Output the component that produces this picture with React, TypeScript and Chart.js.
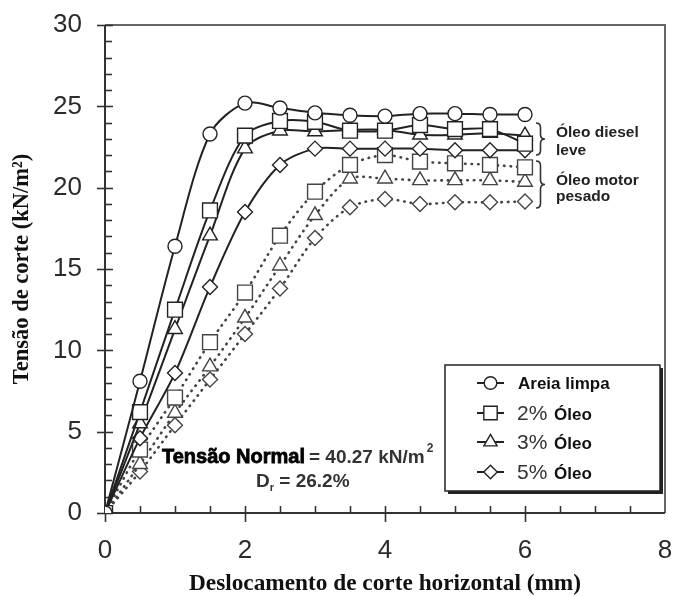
import React, { useEffect, useRef } from 'react';
import { Chart, registerables } from 'chart.js';

Chart.register(...registerables);

// ---- data ----
const xValues = [0, 0.5, 1, 1.5, 2, 2.5, 3, 3.5, 4, 4.5, 5, 5.5, 6];
const areiaLimpa = [0, 8.1, 16.4, 23.3, 25.2, 24.9, 24.6, 24.45, 24.4, 24.55, 24.55, 24.5, 24.5];
const diesel2 = [0, 6.2, 12.5, 18.6, 23.2, 24.1, 24.05, 23.5, 23.5, 23.85, 23.6, 23.6, 22.7];
const diesel3 = [0, 5.5, 11.3, 17.05, 22.4, 23.5, 23.45, 23.55, 23.55, 23.25, 23.25, 23.35, 23.2];
const diesel5 = [0, 4.6, 8.6, 13.9, 18.5, 21.4, 22.4, 22.4, 22.4, 22.4, 22.3, 22.3, 22.3];
const motor2 = [0, 3.9, 7.1, 10.5, 13.55, 17.05, 19.75, 21.4, 22.0, 21.6, 21.5, 21.4, 21.25];
const motor3 = [0, 3.0, 6.15, 9.0, 12.0, 15.2, 18.3, 20.55, 20.55, 20.45, 20.45, 20.45, 20.35];
const motor5 = [0, 2.55, 5.4, 8.2, 11.0, 13.8, 16.9, 18.8, 19.3, 19.0, 19.1, 19.1, 19.15];

const xTickValues = [0, 2, 4, 6, 8];
const yTickValues = [0, 5, 10, 15, 20, 25, 30];
const legendNames = ['Areia limpa', '2%', '3%', '5%'];
const legendSuffix = ['', ' Óleo', ' Óleo', ' Óleo'];
const legendStyles = ['circle', 'rect', 'triangle', 'rectRot'];
const groupLabels = [['Óleo diesel', 'leve'], ['Óleo motor', 'pesado']];
const normalLabel = 'Tensão Normal';
const normalValue = '= 40.27 kN/m';
const drLabel = ' = 26.2%';

const SANS = '"Liberation Sans", Arial, sans-serif';
const SERIF = '"Liberation Serif", "Times New Roman", serif';

const radiusFor: Record<string, number> = { circle: 7, rect: 10.5, triangle: 8.5, rectRot: 7.5 };

function toPoints(ys: number[]) {
  return xValues.map((x, i) => ({ x, y: ys[i] }));
}

function drawMarker(ctx: CanvasRenderingContext2D, style: string, x: number, y: number, r: number) {
  ctx.beginPath();
  if (style === 'circle') {
    ctx.arc(x, y, r, 0, Math.PI * 2);
  } else if (style === 'rect') {
    const s = r * Math.SQRT1_2;
    ctx.rect(x - s, y - s, 2 * s, 2 * s);
  } else if (style === 'triangle') {
    for (let k = 0; k < 3; k++) {
      const a = (k * 2 * Math.PI) / 3;
      const px = x + Math.sin(a) * r;
      const py = y - Math.cos(a) * r;
      if (k === 0) ctx.moveTo(px, py);
      else ctx.lineTo(px, py);
    }
    ctx.closePath();
  } else {
    ctx.moveTo(x, y - r);
    ctx.lineTo(x + r, y);
    ctx.lineTo(x, y + r);
    ctx.lineTo(x - r, y);
    ctx.closePath();
  }
  ctx.fillStyle = '#fff';
  ctx.fill();
  ctx.stroke();
}

function drawBrace(ctx: CanvasRenderingContext2D, x: number, y1: number, y2: number, w: number) {
  const ym = (y1 + y2) / 2;
  const h = w / 2;
  ctx.beginPath();
  ctx.moveTo(x, y1);
  ctx.quadraticCurveTo(x + h, y1, x + h, y1 + h);
  ctx.lineTo(x + h, ym - h);
  ctx.quadraticCurveTo(x + h, ym, x + w, ym);
  ctx.quadraticCurveTo(x + h, ym, x + h, ym + h);
  ctx.lineTo(x + h, y2 - h);
  ctx.quadraticCurveTo(x + h, y2, x, y2);
  ctx.stroke();
}

const framePlugin = {
  id: 'framePlugin',
  beforeDatasetsDraw(chart: any) {
    const { ctx, chartArea, scales } = chart;
    const xs = scales.x;
    const ys = scales.y;
    const { left, right, top, bottom } = chartArea;
    ctx.save();
    ctx.strokeStyle = '#666';
    ctx.lineWidth = 2;
    ctx.beginPath();
    ctx.moveTo(left, top);
    ctx.lineTo(right, top);
    ctx.lineTo(right, bottom);
    ctx.stroke();
    ctx.strokeStyle = '#333';
    ctx.lineWidth = 2;
    ctx.beginPath();
    ctx.moveTo(left, top);
    ctx.lineTo(left, bottom);
    ctx.lineTo(right, bottom);
    ctx.stroke();
    ctx.lineWidth = 1.6;
    for (let v = 0; v <= 30; v += 1) {
      const py = Math.round(ys.getPixelForValue(v)) + 0.5;
      ctx.beginPath();
      if (v % 5 === 0) {
        ctx.moveTo(left - 8, py);
        ctx.lineTo(left + 8, py);
      } else {
        ctx.moveTo(left, py);
        ctx.lineTo(left + 7, py);
      }
      ctx.stroke();
    }
    for (let v = 0; v < 8; v += 0.5) {
      const px = Math.round(xs.getPixelForValue(v)) + 0.5;
      ctx.beginPath();
      if (v % 2 === 0) {
        ctx.moveTo(px, bottom - 7);
        ctx.lineTo(px, bottom + 9);
      } else {
        ctx.moveTo(px, bottom - 7);
        ctx.lineTo(px, bottom);
      }
      ctx.stroke();
    }
    ctx.restore();
  },
  afterDraw(chart: any) {
    const { ctx } = chart;
    ctx.save();
    const bx = 445, by = 365, bw = 215, bh = 126;
    ctx.fillStyle = '#222';
    ctx.fillRect(bx + 3, by + 3, bw, bh);
    ctx.fillStyle = '#fff';
    ctx.fillRect(bx, by, bw, bh);
    ctx.strokeStyle = '#222';
    ctx.lineWidth = 1.5;
    ctx.strokeRect(bx, by, bw, bh);
    const rowsY = [383, 413, 442, 472];
    legendNames.forEach((name, i) => {
      const y = rowsY[i];
      ctx.strokeStyle = '#222';
      ctx.lineWidth = 2;
      ctx.beginPath();
      ctx.moveTo(477, y);
      ctx.lineTo(504, y);
      ctx.stroke();
      ctx.lineWidth = 1.4;
      drawMarker(ctx, legendStyles[i], 490.5, y, radiusFor[legendStyles[i]] * 0.9);
      ctx.textBaseline = 'alphabetic';
      ctx.textAlign = 'left';
      if (i === 0) {
        ctx.font = 'bold 17px ' + SANS;
        ctx.fillStyle = '#111';
        ctx.fillText(name, 518, y + 6);
      } else {
        ctx.font = '21px ' + SANS;
        ctx.fillStyle = '#333';
        ctx.fillText(name, 517, y + 7);
        const w = ctx.measureText(name).width;
        ctx.font = 'bold 17px ' + SANS;
        ctx.fillStyle = '#111';
        ctx.fillText(legendSuffix[i], 519 + w, y + 7);
      }
    });

    ctx.font = 'bold 20px ' + SANS;
    ctx.fillStyle = '#000';
    ctx.strokeStyle = '#000';
    ctx.lineWidth = 0.8;
    ctx.fillText(normalLabel, 162, 463);
    ctx.strokeText(normalLabel, 162, 463);
    const nlw = ctx.measureText(normalLabel).width;
    ctx.font = 'bold 19px ' + SANS;
    ctx.fillStyle = '#333';
    const vx = 162 + nlw + 4;
    ctx.fillText(normalValue, vx, 463);
    const nvw = ctx.measureText(normalValue).width;
    ctx.font = 'bold 12px ' + SANS;
    ctx.fillText('2', vx + nvw + 2, 452);
    ctx.font = 'bold 19px ' + SANS;
    ctx.fillText('D', 256, 487);
    const dw = ctx.measureText('D').width;
    ctx.font = 'bold 11px ' + SANS;
    ctx.fillText('r', 256 + dw, 491);
    const rw = ctx.measureText('r').width;
    ctx.font = 'bold 19px ' + SANS;
    ctx.fillText(drLabel, 256 + dw + rw, 487);

    ctx.strokeStyle = '#333';
    ctx.lineWidth = 1.6;
    drawBrace(ctx, 536, 123, 155, 9);
    drawBrace(ctx, 536, 161, 208, 9);
    ctx.font = 'bold 15.5px ' + SANS;
    ctx.fillStyle = '#222';
    ctx.fillText(groupLabels[0][0], 556, 137);
    ctx.fillText(groupLabels[0][1], 556, 155);
    ctx.fillText(groupLabels[1][0], 556, 185);
    ctx.fillText(groupLabels[1][1], 556, 201);
    ctx.restore();
  },
};

function solid(label: string, ys: number[], style: string) {
  return {
    label,
    data: toPoints(ys),
    borderColor: '#222',
    borderWidth: 2,
    tension: 0.3,
    pointStyle: style,
    pointRadius: radiusFor[style],
    pointBackgroundColor: '#fff',
    pointBorderColor: '#222',
    pointBorderWidth: 1.4,
    fill: false,
  };
}

function dotted(label: string, ys: number[], style: string) {
  return {
    label,
    data: toPoints(ys),
    borderColor: '#444',
    borderWidth: 2.6,
    borderDash: [0.5, 6],
    borderCapStyle: 'round',
    tension: 0.3,
    pointStyle: style,
    pointRadius: radiusFor[style],
    pointBackgroundColor: '#fff',
    pointBorderColor: '#444',
    pointBorderWidth: 1.4,
    fill: false,
  };
}

function zeroPad(s: any) {
  s.paddingLeft = 0;
  s.paddingRight = 0;
  s.paddingTop = 0;
  s.paddingBottom = 0;
}

export default function App() {
  const ref = useRef<HTMLCanvasElement | null>(null);
  useEffect(() => {
    if (!ref.current) return;
    const chart = new Chart(ref.current, {
      type: 'line',
      data: {
        datasets: [
          solid('Areia limpa', areiaLimpa, 'circle'),
          solid('2% Óleo', diesel2, 'rect'),
          solid('3% Óleo', diesel3, 'triangle'),
          solid('5% Óleo', diesel5, 'rectRot'),
          dotted('2% Óleo motor', motor2, 'rect'),
          dotted('3% Óleo motor', motor3, 'triangle'),
          dotted('5% Óleo motor', motor5, 'rectRot'),
        ] as any,
      },
      options: {
        responsive: false,
        animation: false,
        devicePixelRatio: 1,
        layout: { autoPadding: false, padding: { left: 0, right: 8, top: 25, bottom: 0 } },
        plugins: { legend: { display: false }, tooltip: { enabled: false } },
        scales: {
          x: {
            type: 'linear',
            min: 0,
            max: 8,
            afterBuildTicks: (s: any) => {
              s.ticks = xTickValues.map((v) => ({ value: v }));
            },
            ticks: {
              font: { family: SANS, size: 26 },
              color: '#2b2b2b',
              padding: 22,
              maxRotation: 0,
            },
            grid: { display: false, drawTicks: false },
            border: { display: false },
            title: {
              display: true,
              text: 'Deslocamento de corte horizontal (mm)',
              font: { family: SERIF, size: 23.3, weight: 'bold' },
              color: '#111',
              padding: { top: 0, bottom: -2 },
            },
            afterFit: (s: any) => {
              s.height = 83;
              zeroPad(s);
            },
          },
          y: {
            type: 'linear',
            min: 0,
            max: 30,
            afterBuildTicks: (s: any) => {
              s.ticks = yTickValues.map((v) => ({ value: v }));
            },
            ticks: {
              font: { family: SANS, size: 26 },
              color: '#2b2b2b',
              padding: 23,
            },
            grid: { display: false, drawTicks: false },
            border: { display: false },
            title: {
              display: true,
              text: 'Tensão de corte (kN/m²)',
              font: { family: SERIF, size: 22.5, weight: 'bold' },
              color: '#111',
              padding: { top: 9, bottom: 0 },
            },
            afterFit: (s: any) => {
              s.width = 105;
              zeroPad(s);
            },
          },
        },
      } as any,
      plugins: [framePlugin],
    });
    return () => chart.destroy();
  }, []);
  return (
    <div style={{ position: 'fixed', left: 0, top: 0, width: 673, height: 596, background: '#fff' }}>
      <canvas ref={ref} width={673} height={596} style={{ display: 'block' }} />
    </div>
  );
}
